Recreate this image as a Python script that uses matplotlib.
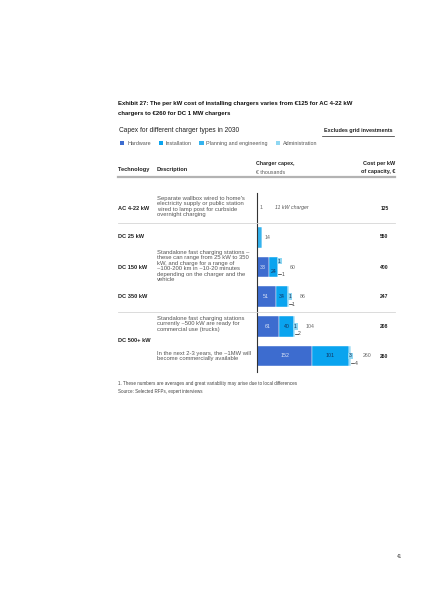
import matplotlib.pyplot as plt
from matplotlib.lines import Line2D
from matplotlib.patches import Patch
import numpy as np

plt.rcParams['font.family'] = ['Liberation Sans', 'DejaVu Sans']

# data
rows = ['AC 4-22 kW', 'DC 25 kW', 'DC 150 kW', 'DC 350 kW', 'DC 500+ kW a', 'DC 500+ kW b']
hardware = [0, 0, 33, 51, 61, 152]
installation = [0, 0, 24, 34, 40, 101]
planning = [1, 14, 1, 1, 1, 3]
admin = [0, 0, 1, 1, 2, 4]
totals = [1, 14, 60, 86, 104, 260]
cost_per_kw = [125, 550, 400, 247, 208, 260]
series = ['Hardware', 'Installation', 'Planning and engineering', 'Administration']
colors = ['#3d6ccf', '#0aa4ef', '#34b3ee', '#8fd7f2']

W, H = 424, 600
fig = plt.figure(figsize=(W / 100, H / 100), dpi=100)


def px(x, y):
    return x / W, 1 - y / H


def txt(x, y, s, **kw):
    kw.setdefault('va', 'center')
    kw.setdefault('color', '#222222')
    fig.text(*px(x, y), s, **kw)


def hline(x0, x1, y, **kw):
    fig.add_artist(Line2D([x0 / W, x1 / W], [1 - y / H, 1 - y / H],
                          transform=fig.transFigure, **kw))


# titles
txt(118, 104, 'Exhibit 27: The per kW cost of installing chargers varies from €125 for AC 4-22 kW',
    fontsize=4.35, fontweight='bold', color='#111111')
txt(118, 114, 'chargers to €260 for DC 1 MW chargers', fontsize=4.35, fontweight='bold', color='#111111')
txt(119, 131, 'Capex for different charger types in 2030', fontsize=4.8)
txt(393, 131, 'Excludes grid investments', fontsize=3.9, fontweight='bold', ha='right')
hline(322, 394, 135.5, color='#222222', lw=0.5)

handles = [Patch(facecolor=c, label=s) for c, s in zip(colors, series)]
fig.legend(handles=handles, loc='center left', bbox_to_anchor=(px(120, 143.5)), ncol=4,
           frameon=False, fontsize=3.9, handlelength=0.8, handleheight=0.8,
           handletextpad=0.5, columnspacing=1.45, borderaxespad=0, borderpad=0,
           labelcolor='#555555')

# header
txt(118, 169, 'Technology', fontsize=4.1, fontweight='bold')
txt(157, 169, 'Description', fontsize=4.1, fontweight='bold')
txt(256, 164, 'Charger capex,', fontsize=3.8, fontweight='bold')
txt(256, 172, '€ thousands', fontsize=3.8, color='#555555')
txt(395, 164, 'Cost per kW', fontsize=4.0, fontweight='bold', ha='right')
txt(395, 172, 'of capacity, €', fontsize=4.0, fontweight='bold', ha='right')
hline(118, 395, 177, color='#b3b3b3', lw=1.6)
hline(118, 395, 223, color='#d6d6d6', lw=0.6)
hline(118, 395, 312, color='#d6d6d6', lw=0.6)

# row labels & descriptions
label_y = [208, 237, 267, 297, 341]
labels = ['AC 4-22 kW', 'DC 25 kW', 'DC 150 kW', 'DC 350 kW', 'DC 500+ kW']
for s, y in zip(labels, label_y):
    txt(118, y, s, fontsize=4.1, fontweight='bold')

desc_kw = dict(fontsize=4.2, color='#555555', linespacing=1.1)
txt(157, 206.5, "Separate wallbox wired to home's\nelectricity supply or public station\n"
    "wired to lamp post for curbside\novernight charging", **desc_kw)
txt(157, 266, "Standalone fast charging stations –\nthese can range from 25 kW to 350\n"
    "kW, and charge for a range of\n~100-200 km in ~10-20 minutes\n"
    "depending on the charger and the\nvehicle", **desc_kw)
txt(157, 324, "Standalone fast charging stations\ncurrently ~500 kW are ready for\n"
    "commercial use (trucks)", **desc_kw)
txt(157, 356, "In the next 2-3 years, the ~1MW will\nbecome commercially available", **desc_kw)

row_y = [208, 237, 267, 297, 326.5, 356]
for v, y in zip(cost_per_kw, row_y):
    txt(388.5, y, str(v), fontsize=3.6, fontweight='bold', ha='right')

# bars
ax = fig.add_axes([257 / W, 1 - 372 / H, (395 - 257) / W, (372 - 193) / H])
ax.set_xlim(0, 380)
ax.set_ylim(5.54, -0.5)
ypos = np.arange(len(rows))
left = np.zeros(len(rows))
for vals, c in zip([hardware, installation, planning, admin], colors):
    ax.barh(ypos, vals, left=left, height=0.7, color=c, edgecolor='white', linewidth=0.3)
    left = left + np.array(vals)

for i in ypos:
    h, ins, pl, ad = hardware[i], installation[i], planning[i], admin[i]
    end = h + ins + pl + ad
    if h:
        ax.text(h / 2, i, str(h), ha='center', va='center', fontsize=3.8, color='#dde6f7')
    if ins:
        yy = i + 0.15 if i == 2 else i
        ax.text(h + ins / 2, yy, str(ins), ha='center', va='center', fontsize=3.8, color='#12325e')
    if ad:
        yy = i - 0.2 if i == 2 else i
        ax.text(h + ins + 1, yy, str(pl), ha='left', va='center', fontsize=3.6, color='#12325e',
                bbox=dict(boxstyle='square,pad=0.15', fc=colors[3], ec='none'))
        ax.plot([end, end + 8], [i + 0.25, i + 0.25], color='#222222', lw=0.5)
        ax.text(end + 9, i + 0.25, str(ad), ha='left', va='center', fontsize=3.6, color='#444444')
        ax.text(end + 30, i, str(totals[i]), ha='left', va='center', fontsize=3.8, color='#666666')
    else:
        ax.text(end + 7, i, str(totals[i]), ha='left', va='center', fontsize=3.8, color='#666666')

ax.text(50, 0, '11 kW charger', ha='left', va='center', fontsize=3.8, color='#555555', style='italic')

for s in ['top', 'right', 'bottom']:
    ax.spines[s].set_visible(False)
ax.spines['left'].set_color('#333333')
ax.spines['left'].set_linewidth(0.8)
ax.set_xticks([])
ax.set_yticks([])
ax.patch.set_alpha(0)

# footnotes
txt(118, 383, '1. These numbers are averages and great variability may arise due to local differences',
    fontsize=3.3, color='#444444')
txt(118, 392, 'Source: Selected RFPs, expert interviews', fontsize=3.25, color='#444444')
txt(397, 556, '41', fontsize=3.3, color='#444444')

fig.savefig('out.png', dpi=100)
